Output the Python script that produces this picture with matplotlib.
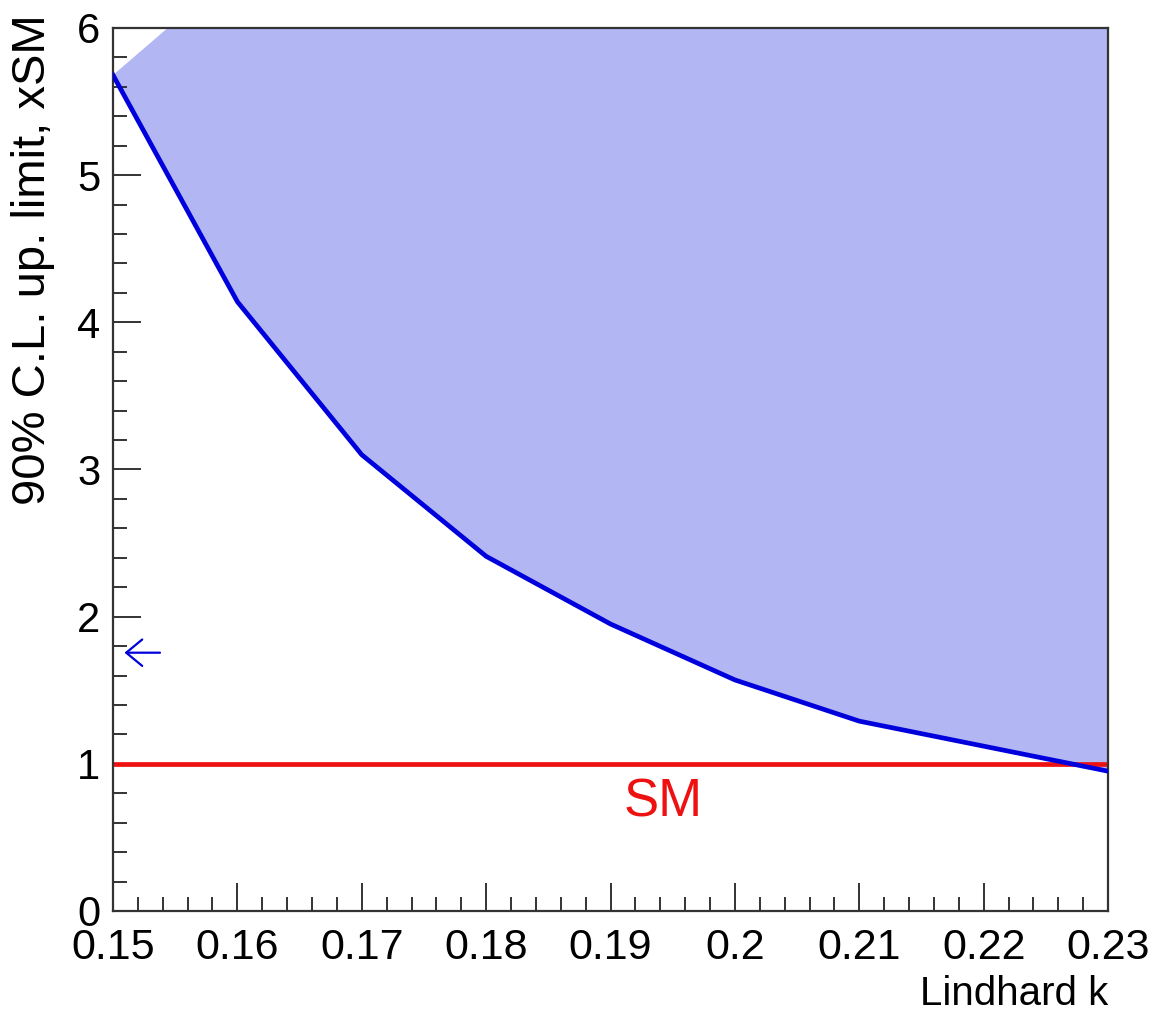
import matplotlib.pyplot as plt
from matplotlib.ticker import MultipleLocator, FixedLocator

plt.rcParams['font.family'] = ['Liberation Sans', 'DejaVu Sans']

# Exclusion limit vs Lindhard k
lindhard_k = [0.15, 0.16, 0.17, 0.18, 0.19, 0.20, 0.21, 0.22, 0.23]
upper_limit = [5.68, 4.14, 3.10, 2.41, 1.95, 1.57, 1.29, 1.12, 0.95]

# upper corner of the excluded band
band_top_k = [0.23, 0.1544]
band_top_y = [6.0, 6.0]

sm_level = 1.0
arrow_y = 1.755

blue = '#0000dd'
red = '#ee1111'

fig = plt.figure(figsize=(11.53, 10.13), dpi=100)
ax = fig.add_axes([0.098, 0.1007, 0.863, 0.8717])

# excluded region above the limit curve
ax.fill(lindhard_k + band_top_k, upper_limit + band_top_y,
        color='#b2b6f3', lw=0, zorder=1)
ax.plot(lindhard_k, upper_limit, color=blue, lw=3.4, zorder=3)
ax.plot([lindhard_k[0], lindhard_k[-1]], [sm_level, sm_level],
        color=red, lw=3.4, zorder=2)

ax.text(0.1942, 0.74, 'SM', color=red, fontsize=38, ha='center', va='center')

ax.annotate('', xy=(0.1507, arrow_y), xytext=(0.1540, arrow_y),
            arrowprops=dict(arrowstyle='->,head_length=1.15,head_width=0.95',
                            color=blue, lw=1.6))

ax.set_xlim(0.15, 0.23)
ax.set_ylim(0, 6)

ax.xaxis.set_major_locator(FixedLocator([0.15, 0.16, 0.17, 0.18, 0.19, 0.20, 0.21, 0.22, 0.23]))
ax.set_xticklabels(['0.15', '0.16', '0.17', '0.18', '0.19', '0.2', '0.21', '0.22', '0.23'])
ax.xaxis.set_minor_locator(MultipleLocator(0.002))
ax.yaxis.set_major_locator(MultipleLocator(1))
ax.yaxis.set_minor_locator(MultipleLocator(0.2))

ax.tick_params(axis='both', which='both', direction='in', top=False, right=False,
               width=1.4, color='#333333')
ax.tick_params(axis='both', which='major', length=20)
ax.tick_params(axis='both', which='minor', length=10)
ax.tick_params(axis='x', which='major', labelsize=31, pad=12)
ax.tick_params(axis='y', which='major', labelsize=30, pad=9)

for sp in ax.spines.values():
    sp.set_linewidth(1.6)
    sp.set_color('#333333')

ax.text(1.0, -0.072, 'Lindhard k', transform=ax.transAxes, fontsize=29,
        ha='right', va='top')
ax.text(-0.080, 1.015, '90% C.L. up. limit, xSM', transform=ax.transAxes,
        fontsize=34, rotation=90, ha='center', va='top')

fig.savefig('out.png', dpi=100)
